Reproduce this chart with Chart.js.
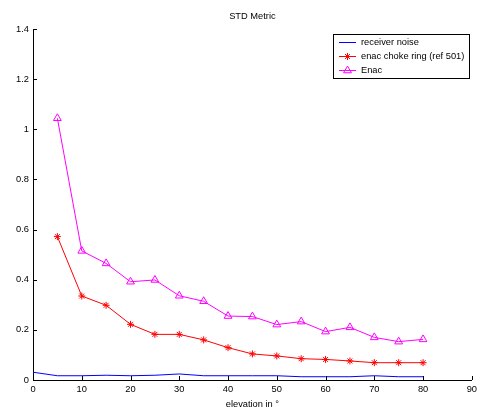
<!DOCTYPE html>
<html>
<head>
<meta charset="utf-8">
<script src="https://cdn.jsdelivr.net/npm/chart.js@4/dist/chart.umd.min.js"></script>
<style>
html, body { margin: 0; padding: 0; background: #fff; }
</style>
</head>
<body>
<canvas id="stdChart" width="481" height="407"></canvas>
<script>
const elevation = [0, 5, 10, 15, 20, 25, 30, 35, 40, 45, 50, 55, 60, 65, 70, 75, 80];
const receiverNoise = [0.031, 0.017, 0.017, 0.019, 0.017, 0.019, 0.024, 0.017, 0.017, 0.017, 0.017, 0.013, 0.013, 0.013, 0.017, 0.013, 0.013];
const chokeRing = [null, 0.572, 0.335, 0.298, 0.222, 0.182, 0.182, 0.160, 0.129, 0.104, 0.096, 0.085, 0.082, 0.076, 0.069, 0.069, 0.069];
const enac = [null, 1.044, 0.515, 0.465, 0.392, 0.399, 0.336, 0.314, 0.255, 0.253, 0.221, 0.233, 0.193, 0.210, 0.170, 0.153, 0.162];
const seriesNames = ['receiver noise', 'enac choke ring (ref 501)', 'Enac'];

const FONT = 'Liberation Sans, Arial, sans-serif';
const FS = 9.3;

function toPoints(vals) {
    const pts = [];
    vals.forEach((v, i) => { if (v !== null) pts.push({ x: elevation[i], y: v }); });
    return pts;
}

// matlab style: ticks pointing into the axes
const innerTicks = {
    id: 'innerTicks',
    afterDraw(chart) {
        const ctx = chart.ctx;
        const xs = chart.scales.x, ys = chart.scales.y;
        const a = chart.chartArea;
        ctx.save();
        ctx.strokeStyle = '#000';
        ctx.lineWidth = 1;
        ctx.beginPath();
        xs.ticks.forEach(t => {
            const px = Math.round(xs.getPixelForValue(t.value)) + 0.5;
            ctx.moveTo(px, a.bottom);
            ctx.lineTo(px, a.bottom - 4);
        });
        ys.ticks.forEach(t => {
            const py = Math.round(ys.getPixelForValue(t.value)) + 0.5;
            ctx.moveTo(a.left, py);
            ctx.lineTo(a.left + 4, py);
        });
        ctx.stroke();
        ctx.restore();
    }
};

// title, x label and the boxed legend
const overlay = {
    id: 'overlay',
    afterDraw(chart) {
        const ctx = chart.ctx;
        const a = chart.chartArea;
        const cx = (a.left + a.right) / 2;
        ctx.save();
        ctx.fillStyle = '#000';
        ctx.font = FS + 'px ' + FONT;
        ctx.textAlign = 'center';
        ctx.textBaseline = 'middle';
        ctx.fillText('STD Metric', cx, 16);
        ctx.fillText('elevation in \u00b0', cx, 404);

        // legend
        const bx = 333.5, by = 34.5, bw = 136, bh = 44;
        ctx.fillStyle = '#fff';
        ctx.fillRect(bx, by, bw, bh);
        ctx.strokeStyle = '#000';
        ctx.lineWidth = 1;
        ctx.strokeRect(bx, by, bw, bh);
        ctx.textAlign = 'left';
        chart.data.datasets.forEach((ds, i) => {
            const y = 42.5 + i * 14;
            ctx.strokeStyle = ds.borderColor;
            ctx.lineWidth = 1;
            ctx.beginPath();
            ctx.moveTo(339, y);
            ctx.lineTo(356, y);
            ctx.stroke();
            if (ds.pointStyle && ds.pointRadius > 0) {
                ctx.fillStyle = 'rgba(0,0,0,0)';
                Chart.helpers.drawPoint(ctx, {
                    pointStyle: ds.pointStyle,
                    radius: ds.pointRadius,
                    borderWidth: ds.pointBorderWidth || 1,
                    rotation: 0
                }, 347.5, y);
            }
            ctx.fillStyle = '#000';
            ctx.fillText(ds.label, 361, y);
        });
        ctx.restore();
    }
};

const tickFont = { family: FONT, size: FS };
const fmt = v => String(Number(v.toFixed(1)));

new Chart(document.getElementById('stdChart'), {
    type: 'line',
    data: {
        datasets: [
            {
                label: seriesNames[0],
                data: toPoints(receiverNoise),
                borderColor: '#0000ff',
                backgroundColor: '#0000ff',
                borderWidth: 1,
                pointRadius: 0
            },
            {
                label: seriesNames[1],
                data: toPoints(chokeRing),
                borderColor: '#ff0000',
                backgroundColor: '#ff0000',
                borderWidth: 1,
                pointStyle: 'star',
                pointRadius: 3.5,
                pointBorderWidth: 1
            },
            {
                label: seriesNames[2],
                data: toPoints(enac),
                borderColor: '#ff00ff',
                backgroundColor: 'rgba(0,0,0,0)',
                borderWidth: 1,
                pointStyle: 'triangle',
                pointRadius: 4.5,
                pointBorderWidth: 1
            }
        ]
    },
    options: {
        responsive: false,
        animation: false,
        devicePixelRatio: 1,
        layout: { padding: { top: 29, right: 7, left: 0, bottom: 0 } },
        plugins: {
            legend: { display: false },
            title: { display: false },
            tooltip: { enabled: false }
        },
        scales: {
            x: {
                type: 'linear',
                min: 0,
                max: 90,
                ticks: { stepSize: 10, font: tickFont, color: '#000', padding: 4, maxRotation: 0, callback: fmt },
                grid: { drawOnChartArea: false, drawTicks: false },
                border: { color: '#000', width: 1 },
                afterFit(s) { s.height = 27; }
            },
            y: {
                min: 0,
                max: 1.4,
                ticks: { stepSize: 0.2, font: tickFont, color: '#000', padding: 4, callback: fmt },
                grid: { drawOnChartArea: false, drawTicks: false },
                border: { color: '#000', width: 1 },
                afterFit(s) { s.width = 33; }
            }
        }
    },
    plugins: [innerTicks, overlay]
});
</script>
</body>
</html>
